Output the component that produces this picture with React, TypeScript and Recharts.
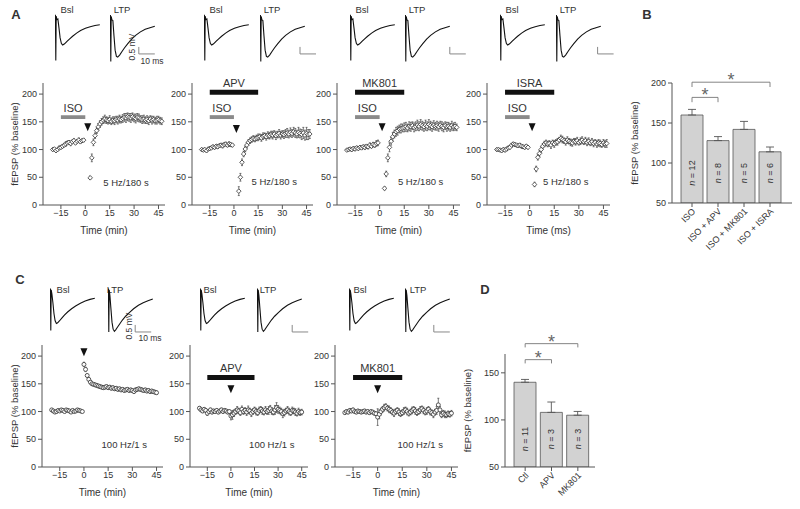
import React from 'react';
import {
  ScatterChart, Scatter, XAxis, YAxis, ErrorBar, ReferenceArea, ReferenceDot,
  ReferenceLine, BarChart, Bar, LabelList, LineChart, Line,
} from 'recharts';

const FONT = '"Liberation Sans", Arial, Helvetica, sans-serif';
const AX = '#555';
const TXT = '#333';

// ---------- time-course data (minutes / % baseline) ----------
const tPre = [-20, -19, -18, -17, -16, -15, -14, -13, -12, -11, -10, -9, -8, -7, -6, -5, -4, -3, -2, -1];
const tPostA = [3, 4, 5, 6, 7, 8, 9, 10, 11, 12, 13, 14, 15, 16, 17, 18, 19, 20, 21, 22, 23, 24, 25, 26, 27, 28, 29, 30, 31, 32, 33, 34, 35, 36, 37, 38, 39, 40, 41, 42, 43, 44, 45, 46, 47];
const tPostC = [0, 1, 2, 3, 4, 5, 6, 7, 8, 9, 10, 11, 12, 13, 14, 15, 16, 17, 18, 19, 20, 21, 22, 23, 24, 25, 26, 27, 28, 29, 30, 31, 32, 33, 34, 35, 36, 37, 38, 39, 40, 41, 42, 43, 44, 45];
const timeTicks = [-15, 0, 15, 30, 45];
const fepspTicks = [0, 50, 100, 150, 200];

// A: ISO
const a1Pre = [100, 101, 98, 100, 103, 104, 106, 108, 110, 112, 113, 111, 114, 116, 112, 115, 117, 114, 116, 117];
const a1PreErr = [2, 2, 3, 2, 3, 3, 3, 3, 4, 3, 3, 4, 3, 4, 3, 3, 4, 3, 3, 3];
const a1Post = [49, 85, 113, 125, 134, 141, 146, 150, 153, 155, 153, 152, 154, 151, 153, 152, 154, 153, 155, 154, 156, 158, 157, 159, 158, 157, 159, 157, 156, 158, 157, 155, 154, 155, 153, 154, 152, 155, 153, 154, 152, 153, 154, 152, 151];
const a1PostErr = [3, 7, 6, 5, 5, 6, 6, 6, 6, 7, 6, 6, 7, 6, 6, 7, 6, 7, 7, 6, 7, 7, 8, 7, 7, 8, 7, 7, 8, 7, 7, 6, 7, 7, 6, 7, 7, 6, 7, 6, 6, 7, 6, 6, 6];
// A: APV
const a2Pre = [100, 99, 100, 98, 101, 102, 103, 105, 104, 106, 105, 107, 108, 107, 109, 110, 108, 110, 109, 108];
const a2PreErr = [2, 2, 2, 3, 2, 3, 3, 3, 3, 3, 3, 3, 3, 4, 3, 3, 3, 4, 3, 3];
const a2Post = [25, 50, 77, 92, 101, 108, 113, 116, 118, 120, 119, 121, 122, 123, 121, 124, 125, 123, 126, 125, 127, 126, 128, 125, 127, 129, 126, 128, 127, 129, 130, 128, 131, 129, 132, 130, 128, 131, 129, 127, 130, 126, 129, 127, 128];
const a2PostErr = [8, 7, 6, 5, 5, 5, 5, 5, 5, 5, 5, 5, 6, 5, 6, 6, 5, 6, 6, 6, 6, 7, 6, 7, 6, 7, 7, 6, 7, 7, 8, 7, 8, 7, 8, 8, 7, 9, 8, 9, 10, 9, 11, 9, 8];
// A: MK801
const a3Pre = [99, 100, 101, 100, 102, 101, 103, 102, 104, 103, 105, 104, 106, 105, 108, 106, 109, 108, 111, 112];
const a3PreErr = [2, 2, 2, 3, 3, 3, 3, 3, 3, 3, 3, 4, 3, 4, 4, 3, 4, 4, 5, 5];
const a3Post = [30, 56, 85, 104, 115, 123, 128, 132, 134, 137, 138, 139, 140, 141, 139, 142, 141, 143, 140, 142, 144, 142, 145, 143, 141, 144, 142, 145, 143, 141, 144, 142, 143, 141, 144, 142, 140, 143, 141, 142, 140, 143, 141, 142, 140];
const a3PostErr = [3, 5, 7, 8, 7, 8, 7, 8, 8, 7, 8, 7, 8, 8, 7, 8, 8, 7, 8, 8, 9, 8, 9, 8, 8, 9, 8, 9, 8, 8, 8, 7, 8, 8, 7, 8, 8, 7, 8, 7, 7, 8, 7, 7, 6];
// A: ISRA
const a4Pre = [100, 100, 99, 98, 100, 99, 101, 103, 104, 108, 110, 109, 108, 107, 108, 106, 105, 104, 106, 104];
const a4PreErr = [2, 2, 2, 2, 3, 3, 3, 3, 3, 3, 3, 3, 3, 3, 3, 3, 3, 3, 3, 3];
const a4Post = [37, 65, 86, 93, 100, 106, 110, 112, 110, 111, 108, 112, 110, 113, 114, 117, 120, 118, 116, 114, 117, 115, 113, 112, 115, 114, 116, 113, 115, 117, 114, 116, 113, 115, 112, 114, 111, 113, 110, 112, 111, 109, 112, 110, 111];
const a4PostErr = [4, 5, 5, 5, 5, 5, 5, 5, 5, 5, 6, 5, 6, 5, 6, 5, 6, 6, 5, 6, 6, 5, 6, 6, 5, 6, 6, 5, 6, 6, 5, 6, 6, 6, 5, 6, 6, 5, 6, 6, 6, 5, 6, 6, 7];
// C: control HFS
const c1Pre = [103, 101, 99, 100, 102, 101, 103, 102, 100, 103, 102, 101, 99, 102, 100, 101, 103, 102, 101, 100];
const c1PreErr = [2, 2, 2, 2, 2, 2, 2, 2, 2, 2, 2, 2, 2, 2, 2, 2, 2, 2, 2, 2];
const c1Post = [185, 176, 165, 158, 153, 150, 149, 148, 147, 146, 145, 144, 143, 144, 145, 143, 144, 142, 143, 141, 142, 140, 141, 139, 140, 138, 139, 140, 138, 139, 138, 136, 139, 140, 141, 140, 139, 138, 139, 137, 138, 136, 137, 136, 135, 134];
const c1PostErr = [4, 4, 3, 3, 3, 3, 3, 3, 3, 3, 3, 3, 3, 3, 3, 3, 3, 3, 3, 3, 3, 3, 3, 3, 3, 3, 3, 3, 3, 3, 3, 3, 3, 3, 3, 3, 3, 3, 3, 3, 3, 3, 3, 3, 3, 3];
// C: APV
const c2Pre = [106, 103, 101, 104, 102, 97, 100, 103, 99, 101, 100, 102, 99, 101, 103, 100, 102, 101, 99, 100];
const c2PreErr = [3, 3, 3, 3, 3, 4, 3, 3, 3, 3, 3, 3, 3, 3, 3, 3, 3, 3, 3, 3];
const c2Post = [92, 94, 97, 100, 103, 101, 98, 104, 100, 102, 99, 103, 101, 97, 100, 103, 100, 98, 102, 104, 101, 99, 103, 100, 102, 105, 101, 99, 103, 107, 104, 102, 100, 96, 98, 101, 103, 100, 98, 102, 101, 99, 97, 100, 98, 99];
const c2PostErr = [7, 8, 6, 5, 6, 5, 5, 6, 5, 5, 6, 7, 5, 6, 5, 5, 6, 5, 6, 5, 6, 5, 6, 5, 7, 6, 6, 5, 8, 9, 7, 6, 6, 7, 6, 5, 6, 6, 5, 6, 5, 6, 5, 6, 5, 5];
// C: MK801
const c3Pre = [98, 100, 99, 102, 101, 103, 100, 99, 101, 100, 99, 100, 101, 99, 100, 98, 100, 99, 97, 96];
const c3PreErr = [3, 3, 3, 3, 3, 3, 3, 3, 3, 3, 3, 3, 3, 3, 3, 3, 3, 3, 3, 3];
const c3Post = [90, 95, 100, 104, 107, 109, 106, 104, 102, 99, 97, 100, 102, 99, 96, 98, 101, 103, 100, 97, 99, 102, 104, 101, 98, 100, 103, 105, 102, 99, 101, 104, 100, 98, 95, 99, 102, 112, 103, 94, 97, 95, 94, 96, 95, 97];
const c3PostErr = [15, 8, 6, 5, 6, 5, 5, 6, 5, 5, 6, 5, 5, 6, 5, 5, 6, 5, 6, 5, 5, 6, 5, 6, 5, 5, 6, 5, 6, 5, 6, 5, 6, 5, 6, 5, 7, 12, 6, 5, 5, 6, 5, 5, 5, 5];

// ---------- bar charts ----------
const bCats = ['ISO', 'ISO + APV', 'ISO + MK801', 'ISO + ISRA'];
const bVals = [160, 128, 142, 114];
const bErr = [7, 5, 10, 6];
const bN = [12, 8, 5, 6];
const dCats = ['Ctl', 'APV', 'MK801'];
const dVals = [140, 108, 105];
const dErr = [3, 11, 4];
const dN = [11, 3, 3];

// ---------- example traces (ms / mV) ----------
const traceT = [0, 0.25, 0.5, 0.75, 1.2, 1.8, 2.5, 3.2, 4, 4.8, 6, 7.5, 9, 11, 13.5, 16, 19, 22, 25, 28];
const traceABsl = [0, 0.65, -2.6, 0.55, 0.3, 0.35, -0.3, -1.0, -1.4, -1.5, -1.42, -1.25, -1.08, -0.88, -0.66, -0.48, -0.32, -0.2, -0.12, -0.06];
const traceALtp = [0, 0.7, -2.6, 0.6, 0.35, 0.3, -0.8, -1.8, -2.25, -2.3, -2.15, -1.9, -1.65, -1.35, -1.02, -0.75, -0.5, -0.32, -0.2, -0.1];
const traceCBsl = [0, 0.6, -2.4, 0.5, 0.2, -0.4, -1.2, -1.7, -1.9, -1.85, -1.7, -1.5, -1.3, -1.08, -0.85, -0.65, -0.45, -0.3, -0.18, -0.1];
const traceCLtp = [0, 0.6, -2.5, 0.5, 0.1, -0.8, -1.8, -2.3, -2.45, -2.35, -2.15, -1.9, -1.65, -1.38, -1.1, -0.85, -0.6, -0.42, -0.28, -0.16];

const fmtMinus = (v: number) => (v < 0 ? `\u2212${Math.abs(v)}` : `${v}`);
const series = (t: number[], v: number[], e: number[]) => t.map((tt, i) => ({ t: tt, v: v[i], e: e[i] }));

const Diamond = (p: any) => {
  const { cx, cy } = p;
  if (cx == null || cy == null) return <g />;
  const r = 2.3;
  return <path d={`M${cx},${cy - r}L${cx + r},${cy}L${cx},${cy + r}L${cx - r},${cy}Z`} fill="#fff" stroke="#333" strokeWidth={0.8} />;
};
const OpenCircle = (p: any) => {
  const { cx, cy } = p;
  if (cx == null || cy == null) return <g />;
  return <circle cx={cx} cy={cy} r={2} fill="#fff" stroke="#333" strokeWidth={0.8} />;
};
const Triangle = (p: any) => {
  const { cx, cy } = p;
  return <path d={`M${cx - 3.5},${cy - 4}L${cx + 3.5},${cy - 4}L${cx},${cy + 4}Z`} fill="#111" />;
};

function Txt({ x, y, children, size = 10, bold = false, rotate = 0 }: any) {
  return (
    <div style={{
      position: 'absolute', left: x, top: y, transform: `translate(-50%, -50%) rotate(${rotate}deg)`,
      fontSize: size, fontWeight: bold ? 'bold' : 'normal',
      color: TXT, whiteSpace: 'nowrap', lineHeight: 1.15, fontFamily: FONT,
    }}>{children}</div>
  );
}

function TimePanel({ ax, right, top, bottom, pre, post, marker, bars, arrow, stim, yLabel, xLabel }: any) {
  const MT = 20, MR = 6, XH = 36;
  const yw = yLabel ? ax - 6 : 36;
  const width = yw + (right - ax) + MR;
  const height = MT + (bottom - top) + XH;
  const shape = marker === 'diamond' ? Diamond : OpenCircle;
  return (
    <div style={{ position: 'absolute', left: ax - yw, top: top - MT }}>
      <ScatterChart width={width} height={height} margin={{ top: MT, right: MR, bottom: 0, left: 0 }}>
        <XAxis type="number" dataKey="t" domain={[-26, 49]} ticks={timeTicks} tickFormatter={fmtMinus}
          tickSize={4} tickMargin={1} height={XH} stroke={AX} tick={{ fontSize: 9, fill: TXT }} allowDataOverflow
          label={{ value: xLabel, position: 'insideBottom', offset: 7, fontSize: 10, fill: TXT }} />
        <YAxis type="number" dataKey="v" domain={[0, 220]} ticks={fepspTicks} width={yw} tickSize={4} tickMargin={2}
          stroke={AX} tick={{ fontSize: 9, fill: TXT }} allowDataOverflow
          label={yLabel ? { value: 'fEPSP (% baseline)', angle: -90, position: 'insideLeft', offset: 9, style: { textAnchor: 'middle' }, fontSize: 9.5, fill: TXT } : undefined} />
        {bars.map((b: any, i: number) => (
          <ReferenceArea key={i} x1={b.from} x2={b.to} y1={b.y1} y2={b.y2} fill={b.fill} fillOpacity={1} stroke="none"
            ifOverflow="visible" label={{ value: b.label, position: 'top', offset: 3, fontSize: 11, fill: TXT }} />
        ))}
        <Scatter data={pre} shape={shape} isAnimationActive={false}>
          <ErrorBar dataKey="e" direction="y" width={1} stroke="#444" strokeWidth={0.7} />
        </Scatter>
        <Scatter data={post} shape={shape} isAnimationActive={false}>
          <ErrorBar dataKey="e" direction="y" width={1} stroke="#444" strokeWidth={0.7} />
        </Scatter>
        <ReferenceDot x={arrow.t} y={arrow.v} r={4} shape={Triangle} ifOverflow="visible" />
        <ReferenceDot x={stim.t} y={stim.v} r={1} ifOverflow="visible"
          shape={(pp: any) => <text x={pp.cx} y={pp.cy} textAnchor="middle" dominantBaseline="central" fontSize={9.5} fill={TXT}>{stim.text}</text>} />
      </ScatterChart>
    </div>
  );
}

function Trace({ x, y0, v, sb }: any) {
  const data = traceT.map((tt, i) => ({ t: tt, v: v[i] }));
  return (
    <div style={{ position: 'absolute', left: x, top: y0 - 17 }}>
      <LineChart width={64} height={59} data={data} margin={{ top: 0, right: 0, bottom: 0, left: 0 }}>
        <XAxis type="number" dataKey="t" domain={[0, 40]} hide />
        <YAxis type="number" domain={[-3, 1.2]} hide />
        <Line dataKey="v" stroke="#111" strokeWidth={1.1} dot={false} isAnimationActive={false} type="linear" />
        {sb && <ReferenceLine segment={[{ x: sb.t, y: sb.v + 0.5 }, { x: sb.t, y: sb.v }]} stroke="#888" strokeWidth={1} ifOverflow="visible" />}
        {sb && <ReferenceLine segment={[{ x: sb.t, y: sb.v }, { x: sb.t + 10, y: sb.v }]} stroke="#888" strokeWidth={1} ifOverflow="visible" />}
      </LineChart>
    </div>
  );
}

const RotTick = (p: any) => {
  const { x, y, payload } = p;
  const tx = x + 4, ty = y + 3;
  return <text x={tx} y={ty} transform={`rotate(-45, ${tx}, ${ty})`} textAnchor="end" fontSize={9} fill={TXT}>{payload.value}</text>;
};
const nLabel = (lift: number) => (p: any) => {
  const vb = p.viewBox || p;
  const x = vb.x ?? p.x, y = vb.y ?? p.y, w = vb.width ?? p.width, h = vb.height ?? p.height;
  const cx = x + w / 2, cy = y + h - lift;
  return (
    <text x={cx} y={cy} transform={`rotate(-90, ${cx}, ${cy})`} textAnchor="middle" dominantBaseline="central" fontSize={9} fill={TXT}>
      <tspan fontStyle="italic">n</tspan> = {p.value}
    </text>
  );
};

function BarPanel({ ax, right, top, bottom, cats, vals, errs, ns, domain, ticks, pad, brackets, lift }: any) {
  const MT = 24, MR = 6, XH = 62, YW = 50;
  const data = cats.map((c: string, i: number) => ({ c, v: vals[i], e: [0, errs[i]], n: ns[i] }));
  return (
    <div style={{ position: 'absolute', left: ax - YW, top: top - MT }}>
      <BarChart width={YW + (right - ax) + MR} height={MT + (bottom - top) + XH} data={data}
        margin={{ top: MT, right: MR, bottom: 0, left: 0 }}>
        <XAxis dataKey="c" type="category" padding={pad} tick={<RotTick />} tickSize={4} height={XH} stroke={AX} interval={0} />
        <YAxis type="number" domain={domain} ticks={ticks} width={YW} tickSize={4} tickMargin={2} stroke={AX}
          tick={{ fontSize: 9, fill: TXT }} allowDataOverflow
          label={{ value: 'fEPSP (% baseline)', angle: -90, position: 'insideLeft', offset: 13, style: { textAnchor: 'middle' }, fontSize: 9.5, fill: TXT }} />
        <Bar dataKey="v" fill="#d2d2d2" stroke="#555" strokeWidth={0.8} barSize={22} isAnimationActive={false}>
          <ErrorBar dataKey="e" direction="y" width={4} stroke="#555" strokeWidth={0.9} />
          <LabelList dataKey="n" content={nLabel(lift)} />
        </Bar>
        {brackets.map((b: any, i: number) => (
          <ReferenceLine key={`h${i}`} segment={[{ x: b.from, y: b.y }, { x: b.to, y: b.y }]} stroke="#777" strokeWidth={0.9}
            ifOverflow="visible" label={{ value: '*', position: 'top', offset: -4, fontSize: 18, fill: '#666' }} />
        ))}
        {brackets.map((b: any, i: number) => (
          <ReferenceLine key={`l${i}`} segment={[{ x: b.from, y: b.y }, { x: b.from, y: b.y - b.drop }]} stroke="#777" strokeWidth={0.9} ifOverflow="visible" />
        ))}
        {brackets.map((b: any, i: number) => (
          <ReferenceLine key={`r${i}`} segment={[{ x: b.to, y: b.y }, { x: b.to, y: b.y - b.drop }]} stroke="#777" strokeWidth={0.9} ifOverflow="visible" />
        ))}
      </BarChart>
    </div>
  );
}

export default function App() {
  const isoBar = (label = 'ISO') => ({ from: -15, to: 0, y1: 155, y2: 162, fill: '#8a8a8a', label });
  const blackBarA = (label: string) => ({ from: -15, to: 15, y1: 199, y2: 208, fill: '#111', label });
  const blackBarC = (label: string) => ({ from: -15, to: 15, y1: 157, y2: 166, fill: '#111', label });
  const rowA = { top: 83, bottom: 205 };
  const rowC = { top: 345, bottom: 467 };
  return (
    <div style={{ position: 'absolute', left: 0, top: 0, width: 800, height: 509, background: '#fff', fontFamily: FONT, overflow: 'hidden' }}>
      {/* panel letters */}
      <Txt x={16} y={15} size={13} bold>A</Txt>
      <Txt x={647} y={15} size={13} bold>B</Txt>
      <Txt x={20} y={280} size={13} bold>C</Txt>
      <Txt x={485} y={290} size={13} bold>D</Txt>

      {/* Row A traces */}
      <Txt x={67} y={10} size={9.5}>Bsl</Txt>
      <Txt x={122} y={10} size={9.5}>LTP</Txt>
      <Trace x={55} y0={24} v={traceABsl} />
      <Trace x={110} y0={25} v={traceALtp} sb={{ t: 18, v: -2.07 }} />
      <Txt x={133} y={47} size={8.5} rotate={-90}>0.5 mV</Txt>
      <Txt x={152} y={62} size={8.5}>10 ms</Txt>

      <Txt x={216} y={10} size={9.5}>Bsl</Txt>
      <Txt x={272} y={10} size={9.5}>LTP</Txt>
      <Trace x={204} y0={24} v={traceABsl} />
      <Trace x={260} y0={25} v={traceALtp} sb={{ t: 25, v: -2.07 }} />

      <Txt x={362} y={10} size={9.5}>Bsl</Txt>
      <Txt x={417} y={10} size={9.5}>LTP</Txt>
      <Trace x={350} y0={24} v={traceABsl} />
      <Trace x={405} y0={25} v={traceALtp} sb={{ t: 28, v: -2.07 }} />

      <Txt x={512} y={10} size={9.5}>Bsl</Txt>
      <Txt x={568} y={10} size={9.5}>LTP</Txt>
      <Trace x={500} y0={24} v={traceABsl} />
      <Trace x={556} y0={25} v={traceALtp} sb={{ t: 26, v: -2.07 }} />

      {/* Row A time courses */}
      <TimePanel ax={43} right={165} {...rowA} pre={series(tPre, a1Pre, a1PreErr)} post={series(tPostA, a1Post, a1PostErr)}
        marker="diamond" bars={[isoBar()]} arrow={{ t: 1.5, v: 140 }} stim={{ t: 25, v: 41, text: '5 Hz/180 s' }} yLabel xLabel="Time (min)" />
      <TimePanel ax={192} right={313} {...rowA} pre={series(tPre, a2Pre, a2PreErr)} post={series(tPostA, a2Post, a2PostErr)}
        marker="diamond" bars={[blackBarA('APV'), isoBar()]} arrow={{ t: 1.5, v: 137 }} stim={{ t: 25, v: 42, text: '5 Hz/180 s' }} xLabel="Time (min)" />
      <TimePanel ax={337} right={460} {...rowA} pre={series(tPre, a3Pre, a3PreErr)} post={series(tPostA, a3Post, a3PostErr)}
        marker="diamond" bars={[blackBarA('MK801'), isoBar()]} arrow={{ t: 1.5, v: 140 }} stim={{ t: 25, v: 42, text: '5 Hz/180 s' }} xLabel="Time (min)" />
      <TimePanel ax={487} right={610} {...rowA} pre={series(tPre, a4Pre, a4PreErr)} post={series(tPostA, a4Post, a4PostErr)}
        marker="diamond" bars={[blackBarA('ISRA'), isoBar()]} arrow={{ t: 1.5, v: 140 }} stim={{ t: 22, v: 42, text: '5 Hz/180 s' }} xLabel="Time (ms)" />

      {/* B */}
      <BarPanel ax={672} right={792} top={83} bottom={203} cats={bCats} vals={bVals} errs={bErr} ns={bN}
        domain={[50, 200]} ticks={[50, 100, 150, 200]} pad={{ left: 7, right: 9 }} lift={30}
        brackets={[{ from: 'ISO', to: 'ISO + ISRA', y: 201, drop: 6 }, { from: 'ISO', to: 'ISO + APV', y: 182, drop: 6 }]} />

      {/* Row C traces */}
      <Txt x={63} y={290} size={9.5}>Bsl</Txt>
      <Txt x={115} y={290} size={9.5}>LTP</Txt>
      <Trace x={50} y0={297} v={traceCBsl} />
      <Trace x={108} y0={297} v={traceCLtp} sb={{ t: 17, v: -2.5 }} />
      <Txt x={130} y={326} size={8.5} rotate={-90}>0.5 mV</Txt>
      <Txt x={150} y={339} size={8.5}>10 ms</Txt>

      <Txt x={210} y={290} size={9.5}>Bsl</Txt>
      <Txt x={268} y={290} size={9.5}>LTP</Txt>
      <Trace x={200} y0={297} v={traceCBsl} />
      <Trace x={257} y0={297} v={traceCLtp} sb={{ t: 22, v: -2.5 }} />

      <Txt x={360} y={290} size={9.5}>Bsl</Txt>
      <Txt x={418} y={290} size={9.5}>LTP</Txt>
      <Trace x={349} y0={297} v={traceCBsl} />
      <Trace x={405} y0={297} v={traceCLtp} sb={{ t: 18, v: -2.5 }} />

      {/* Row C time courses */}
      <TimePanel ax={42} right={163} {...rowC} pre={series(tPre, c1Pre, c1PreErr)} post={series(tPostC, c1Post, c1PostErr)}
        marker="circle" bars={[]} arrow={{ t: 0, v: 207 }} stim={{ t: 25, v: 40, text: '100 Hz/1 s' }} yLabel xLabel="Time (min)" />
      <TimePanel ax={190} right={308} {...rowC} pre={series(tPre, c2Pre, c2PreErr)} post={series(tPostC, c2Post, c2PostErr)}
        marker="circle" bars={[blackBarC('APV')]} arrow={{ t: 0, v: 140 }} stim={{ t: 26, v: 40, text: '100 Hz/1 s' }} xLabel="Time (min)" />
      <TimePanel ax={335} right={458} {...rowC} pre={series(tPre, c3Pre, c3PreErr)} post={series(tPostC, c3Post, c3PostErr)}
        marker="circle" bars={[blackBarC('MK801')]} arrow={{ t: 0, v: 140 }} stim={{ t: 26, v: 40, text: '100 Hz/1 s' }} xLabel="Time (min)" />

      {/* D */}
      <BarPanel ax={505} right={595} top={354} bottom={467} cats={dCats} vals={dVals} errs={dErr} ns={dN}
        domain={[50, 170]} ticks={[50, 100, 150]} pad={{ left: 7, right: 4 }} lift={28}
        brackets={[{ from: 'Ctl', to: 'MK801', y: 181, drop: 4 }, { from: 'Ctl', to: 'APV', y: 164, drop: 4 }]} />
    </div>
  );
}
